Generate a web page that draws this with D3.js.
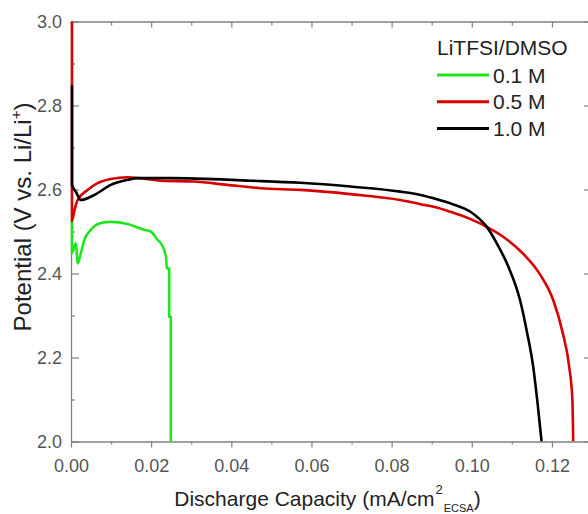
<!DOCTYPE html>
<html>
<head>
<meta charset="utf-8">
<script src="https://cdn.jsdelivr.net/npm/d3@7"></script>
<style>
  html, body { margin: 0; padding: 0; background: #fff; }
  svg { display: block; font-family: "Liberation Sans", Arial, sans-serif; }
</style>
</head>
<body>
<svg id="chart" width="588" height="514"></svg>
<script>
// ---- Data ----
const seriesNames = ["0.1 M", "0.5 M", "1.0 M"];
const seriesColors = ["#1ee61e", "#d90000", "#000000"];
const legendTitle = "LiTFSI/DMSO";

const cap01 = [0, 0, 0.0010, 0.0014, 0.0022, 0.0031, 0.0047, 0.0072, 0.0097, 0.0139, 0.0180, 0.0197, 0.0214, 0.0222, 0.0235, 0.0237, 0.0243, 0.0243, 0.0247, 0.0247];
const pot01 = [2.527, 2.449, 2.472, 2.424, 2.448, 2.480, 2.504, 2.520, 2.523, 2.518, 2.504, 2.500, 2.480, 2.472, 2.440, 2.412, 2.412, 2.297, 2.297, 2.000];

const cap05 = [0, 0, 0.0005, 0.0014, 0.0039, 0.0064, 0.0097, 0.0139, 0.0222, 0.0304, 0.0388, 0.0472, 0.0571, 0.0696, 0.0821, 0.0871, 0.0904, 0.0946, 0.0995, 0.1037, 0.1083, 0.1128, 0.1170, 0.1203, 0.1227, 0.1243, 0.1251, 0.1253];
const pot05 = [3.02, 2.525, 2.546, 2.575, 2.599, 2.615, 2.625, 2.629, 2.621, 2.619, 2.611, 2.603, 2.599, 2.589, 2.575, 2.565, 2.559, 2.547, 2.530, 2.511, 2.484, 2.447, 2.398, 2.337, 2.258, 2.178, 2.099, 2.000];

const cap10 = [0, 0, 0.0010, 0.0022, 0.0056, 0.0097, 0.0139, 0.0164, 0.0247, 0.0447, 0.0571, 0.0696, 0.0821, 0.0871, 0.0904, 0.0946, 0.0996, 0.1037, 0.1062, 0.1091, 0.1120, 0.1138, 0.1153, 0.1163, 0.1174];
const pot10 = [2.848, 2.611, 2.594, 2.575, 2.587, 2.611, 2.623, 2.627, 2.627, 2.621, 2.616, 2.607, 2.595, 2.587, 2.579, 2.567, 2.547, 2.511, 2.472, 2.416, 2.337, 2.258, 2.178, 2.099, 2.000];

const xTicks = [0, 0.02, 0.04, 0.06, 0.08, 0.10, 0.12];
const xTickLabels = ["0.00", "0.02", "0.04", "0.06", "0.08", "0.10", "0.12"];
const yTicks = [2.0, 2.2, 2.4, 2.6, 2.8, 3.0];
const yTickLabels = ["2.0", "2.2", "2.4", "2.6", "2.8", "3.0"];
const xMinorTicks = [0.01, 0.03, 0.05, 0.07, 0.09, 0.11];
const yMinorTicks = [2.1, 2.3, 2.5, 2.7, 2.9];
const xDomain = [0, 0.13];
const yDomain = [2.0, 3.0];

// ---- Layout ----
const L = 71, R = 592, T = 21.5, B = 441.5;
const svg = d3.select("#chart");
svg.append("rect").attr("width", 588).attr("height", 514).attr("fill", "#fff");

const x = d3.scaleLinear().domain(xDomain).range([L + 1, R]);
const y = d3.scaleLinear().domain(yDomain).range([B, T]);

svg.append("defs").append("clipPath").attr("id", "clip")
  .append("rect").attr("x", L - 2).attr("y", T).attr("width", R - L + 2).attr("height", B - T);

const series = [
  { caps: cap01, pots: pot01 },
  { caps: cap05, pots: pot05 },
  { caps: cap10, pots: pot10 }
];

const line = d3.line().x(d => x(d[0])).y(d => y(d[1])).curve(d3.curveMonotoneX);

// ---- Axes ----
const axisColor = "#808080";
const labelColor = "#555";
function styleAxis(g) {
  g.selectAll("path.domain").attr("stroke", axisColor).attr("stroke-width", 1.3);
  g.selectAll(".tick line").attr("stroke", axisColor).attr("stroke-width", 1.2);
}
const xAxisScale = d3.scaleLinear().domain(xDomain).range([L, R]);
// bottom: outward ticks
const gB = svg.append("g").attr("transform", `translate(0,${B})`)
  .call(d3.axisBottom(xAxisScale).tickValues(xTicks).tickFormat((d, i) => xTickLabels[i]).tickSizeInner(6).tickSizeOuter(0).tickPadding(12));
gB.selectAll(".tick text").attr("font-size", 18).attr("fill", labelColor).attr("font-family", "Liberation Sans, Arial, sans-serif");
svg.append("g").attr("transform", `translate(0,${B})`)
  .call(d3.axisBottom(xAxisScale).tickValues(xMinorTicks).tickFormat("").tickSizeInner(3).tickSizeOuter(0))
  .call(g => g.select(".domain").remove()).call(styleAxis);
styleAxis(gB);
// top: inward ticks
svg.append("g").attr("transform", `translate(0,${T})`)
  .call(d3.axisBottom(xAxisScale).tickValues(xTicks).tickFormat("").tickSizeInner(6).tickSizeOuter(0)).call(styleAxis);
svg.append("g").attr("transform", `translate(0,${T})`)
  .call(d3.axisBottom(xAxisScale).tickValues(xMinorTicks).tickFormat("").tickSizeInner(4).tickSizeOuter(0))
  .call(g => g.select(".domain").remove()).call(styleAxis);
// left: inward ticks
svg.append("g").attr("transform", `translate(${L},0)`)
  .call(d3.axisRight(y).tickValues(yTicks).tickFormat("").tickSizeInner(8).tickSizeOuter(0)).call(styleAxis);
svg.append("g").attr("transform", `translate(${L},0)`)
  .call(d3.axisRight(y).tickValues(yMinorTicks).tickFormat("").tickSizeInner(4).tickSizeOuter(0))
  .call(g => g.select(".domain").remove()).call(styleAxis);
// left labels
svg.append("g").selectAll("text").data(yTicks).join("text")
  .attr("x", L - 9).attr("y", d => y(d)).attr("dy", "0.35em")
  .attr("text-anchor", "end").attr("font-size", 18).attr("fill", labelColor)
  .text((d, i) => yTickLabels[i]);
// right: inward ticks
svg.append("g").attr("transform", `translate(${R},0)`)
  .call(d3.axisLeft(y).tickValues(yTicks).tickFormat("").tickSizeInner(8).tickSizeOuter(0)).call(styleAxis);
svg.append("g").attr("transform", `translate(${R},0)`)
  .call(d3.axisLeft(y).tickValues(yMinorTicks).tickFormat("").tickSizeInner(4).tickSizeOuter(0))
  .call(g => g.select(".domain").remove()).call(styleAxis);

// ---- Curves (drawn over the axes) ----
const plot = svg.append("g").attr("clip-path", "url(#clip)");
series.forEach((s, i) => {
  const pts = s.caps.map((c, j) => [c, s.pots[j]]);
  plot.append("path").datum(pts)
    .attr("fill", "none")
    .attr("stroke", seriesColors[i])
    .attr("stroke-width", 2.6)
    .attr("stroke-linejoin", "round")
    .attr("d", line);
});

// ---- Axis titles ----
const xt = svg.append("text").attr("x", (L + R) / 2 - 4).attr("y", 506)
  .attr("text-anchor", "middle").attr("font-size", 21).attr("fill", "#222");
xt.append("tspan").text("Discharge Capacity (mA/cm");
xt.append("tspan").attr("font-size", 13).attr("dy", -12).attr("dx", 1).text("2");
xt.append("tspan").attr("font-size", 11).attr("dy", 18).attr("dx", 1).text("ECSA");
xt.append("tspan").attr("dy", -6).text(")");

const yt = svg.append("text").attr("transform", `translate(31,217) rotate(-90)`)
  .attr("text-anchor", "middle").attr("font-size", 24).attr("fill", "#222");
yt.append("tspan").text("Potential (V vs. Li/Li");
yt.append("tspan").attr("font-size", 15).attr("dy", -10).text("+");
yt.append("tspan").attr("dy", 10).text(")");

// ---- Legend ----
const lg = svg.append("g");
lg.append("text").attr("x", 437).attr("y", 55).attr("font-size", 21).attr("fill", "#222").text(legendTitle);
seriesNames.forEach((n, i) => {
  const ly = 75 + i * 26.7;
  lg.append("line").attr("x1", 437).attr("x2", 489).attr("y1", ly).attr("y2", ly)
    .attr("stroke", seriesColors[i]).attr("stroke-width", 3);
  lg.append("text").attr("x", 493).attr("y", ly + 7.5).attr("font-size", 21).attr("fill", "#222").text(n);
});
</script>
</body>
</html>
